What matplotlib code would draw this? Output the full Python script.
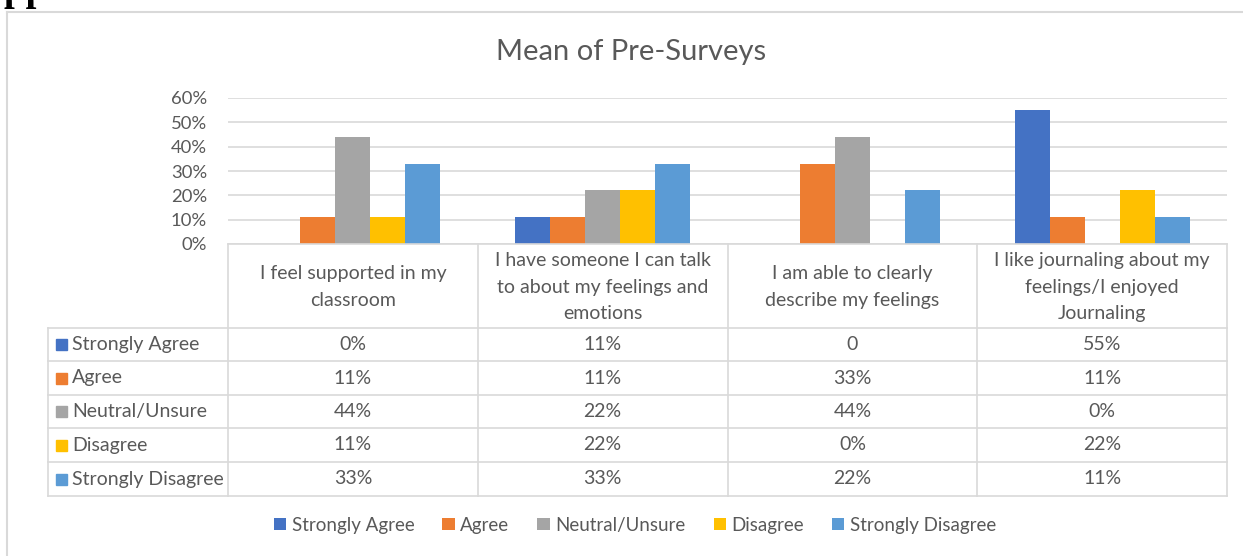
import matplotlib.pyplot as plt
from matplotlib.patches import Rectangle
from matplotlib.lines import Line2D
import numpy as np

plt.rcParams['font.family'] = ['Lato', 'DejaVu Sans']

title = "Mean of Pre-Surveys"
categories = ["I feel supported in my\nclassroom",
              "I have someone I can talk\nto about my feelings and\nemotions",
              "I am able to clearly\ndescribe my feelings",
              "I like journaling about my\nfeelings/I enjoyed\nJournaling"]
series_names = ["Strongly Agree", "Agree", "Neutral/Unsure", "Disagree", "Strongly Disagree"]
# values as written in the data table
strongly_agree = ["0%", "11%", "0", "55%"]
agree = ["11%", "11%", "33%", "11%"]
neutral = ["44%", "22%", "44%", "0%"]
disagree = ["11%", "22%", "0%", "22%"]
strongly_disagree = ["33%", "33%", "22%", "11%"]
yticks = [0, 10, 20, 30, 40, 50, 60]

colors = ["#4472C4", "#ED7D31", "#A5A5A5", "#FFC000", "#5B9BD5"]
table_rows = [strongly_agree, agree, neutral, disagree, strongly_disagree]

W, H = 1243, 556
fig = plt.figure(figsize=(W/100, H/100), dpi=100)
fx = lambda x: x / W
fy = lambda y: 1 - y / H
txt_col = "#595959"
line_col = "#D9D9D9"
fs = 14

# cut-off heading above the chart
fig.text(fx(-23), fy(0), "Appendix", fontsize=28, fontweight='bold',
         family=['Liberation Serif', 'DejaVu Serif'], va='baseline', ha='left')

# chart border
fig.add_artist(Line2D([fx(7), fx(7)], [fy(12), fy(560)], color=line_col, lw=1.5))
fig.add_artist(Line2D([fx(7), fx(1245)], [fy(12), fy(12)], color=line_col, lw=1.5))

fig.text(fx(631), fy(52), title, fontsize=21, color=txt_col, ha='center', va='center')

# bar area
left, right, top, bottom = 228, 1227, 98, 244
ax = fig.add_axes([fx(left), fy(bottom), fx(right - left), (bottom - top) / H])
x = np.arange(len(categories))
bw = 0.14
for i, (name, row) in enumerate(zip(series_names, table_rows)):
    vals = [float(v.rstrip('%')) for v in row]
    ax.bar(x + (i - 2) * bw, vals, bw, color=colors[i], label=name, zorder=3)
ax.set_xlim(-0.5, len(categories) - 0.5)
ax.set_ylim(0, 60)
ax.set_yticks(yticks)
ax.set_yticklabels([f"{t}%" for t in yticks], color=txt_col, fontsize=13.3)
ax.tick_params(axis='y', length=0, pad=15)
ax.set_xticks([])
ax.grid(axis='y', color=line_col, lw=1.2, zorder=0)
for s in ax.spines.values():
    s.set_visible(False)

# data table
col_edges = np.linspace(left, right, len(categories) + 1)
row_edges = [328, 361, 395, 428, 462, 496]
lab_left = 48
fig.add_artist(Line2D([fx(left), fx(right)], [fy(bottom), fy(bottom)], color=line_col, lw=1.2))
for xe in col_edges:
    fig.add_artist(Line2D([fx(xe), fx(xe)], [fy(bottom), fy(row_edges[-1])], color=line_col, lw=1.2))
fig.add_artist(Line2D([fx(lab_left), fx(lab_left)], [fy(row_edges[0]), fy(row_edges[-1])], color=line_col, lw=1.2))
for ye in row_edges:
    fig.add_artist(Line2D([fx(lab_left), fx(right)], [fy(ye), fy(ye)], color=line_col, lw=1.2))

for j, cat in enumerate(categories):
    cx = (col_edges[j] + col_edges[j + 1]) / 2
    fig.text(fx(cx), fy(287), cat, ha='center', va='center', fontsize=fs,
             color=txt_col, linespacing=1.65)

for i, (name, row) in enumerate(zip(series_names, table_rows)):
    cy = (row_edges[i] + row_edges[i + 1]) / 2
    fig.add_artist(Rectangle((fx(56), fy(cy + 5.5)), 11 / W, 11 / H, color=colors[i]))
    fig.text(fx(72), fy(cy), name, ha='left', va='center', fontsize=fs, color=txt_col)
    for j, v in enumerate(row):
        cx = (col_edges[j] + col_edges[j + 1]) / 2
        fig.text(fx(cx), fy(cy), v, ha='center', va='center', fontsize=fs, color=txt_col)

handles, labels = ax.get_legend_handles_labels()
fig.legend(handles, labels, loc='center', bbox_to_anchor=(fx(635), fy(525)), ncol=5,
           frameon=False, fontsize=13.5, labelcolor=txt_col, handlelength=0.65,
           handleheight=0.65, handletextpad=0.3, columnspacing=1.5)

fig.savefig("out.png", dpi=100)
